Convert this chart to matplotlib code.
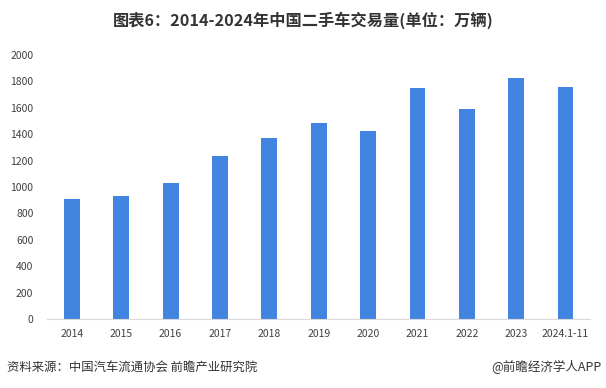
import matplotlib.pyplot as plt

plt.rcParams['font.family'] = ['Noto Sans CJK SC', 'DejaVu Sans']

years = ['2014', '2015', '2016', '2017', '2018', '2019', '2020',
         '2021', '2022', '2023', '2024.1-11']
volume = [910, 935, 1030, 1235, 1370, 1485, 1425, 1750, 1590, 1825, 1758]

fig = plt.figure(figsize=(6.06, 3.88), dpi=100)
ax = fig.add_axes([0.078, 0.178, 0.896, 0.68])

x = range(len(years))
ax.bar(x, volume, width=0.32, color='#4285E0')

ax.set_xlim(-0.5, len(years) - 0.5)
ax.set_ylim(0, 2000)
ax.set_yticks(range(0, 2001, 200))
ax.set_xticks(list(x))
ax.set_xticklabels(years)
ax.tick_params(axis='both', length=0, labelsize=7.5, colors='#404040')
ax.tick_params(axis='y', pad=10)
ax.tick_params(axis='x', pad=7)

for side in ['top', 'right', 'left']:
    ax.spines[side].set_visible(False)
ax.spines['bottom'].set_color('#d9d9d9')

fig.text(0.5, 0.948, '图表6：2014-2024年中国二手车交易量(单位：万辆)',
         ha='center', va='center', fontsize=11.7, fontweight='bold', color='#333333')
fig.text(0.012, 0.054, '资料来源：中国汽车流通协会 前瞻产业研究院',
         ha='left', va='center', fontsize=8.9, color='#333333')
fig.text(0.992, 0.054, '@前瞻经济学人APP',
         ha='right', va='center', fontsize=9, color='#333333')

fig.savefig('out.png', dpi=100)
